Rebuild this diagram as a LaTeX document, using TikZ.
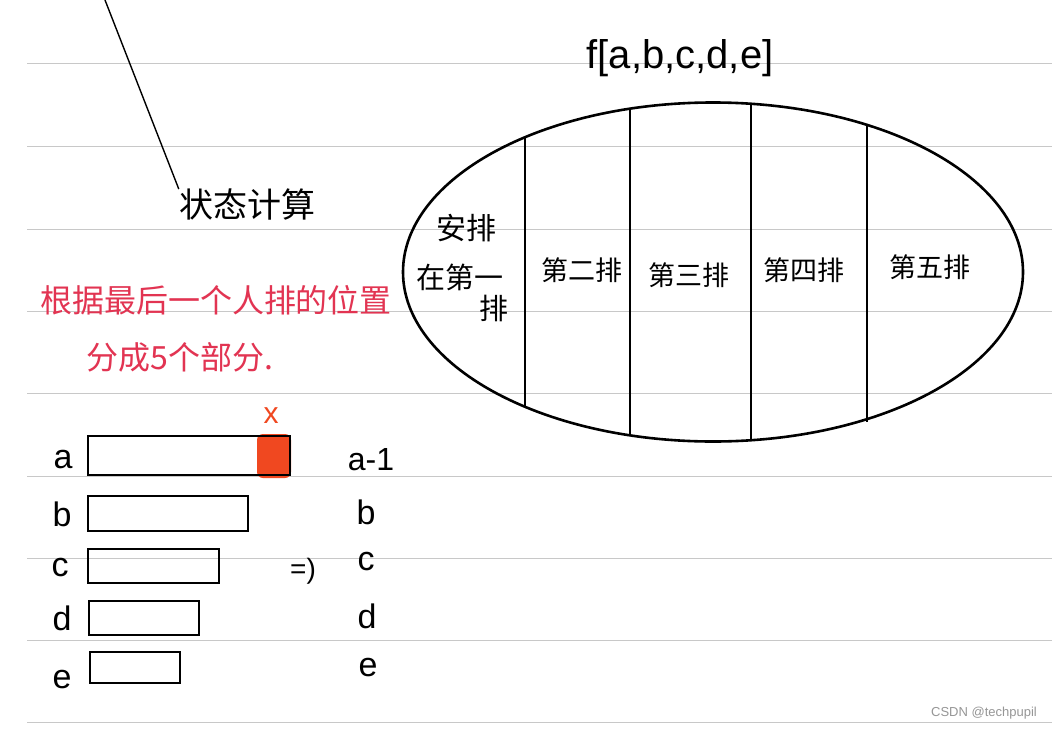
\documentclass[tikz,border=0pt]{standalone}
\usepackage{fontspec}
\setmainfont{Liberation Sans}
\newfontfamily\cjk{Noto Sans CJK SC}
\usetikzlibrary{shapes.geometric}
\definecolor{rulegray}{RGB}{200,200,200}
\definecolor{penred}{RGB}{226,52,82}
\definecolor{markred}{RGB}{240,72,32}
\definecolor{wmgray}{RGB}{150,150,150}
\begin{document}
\begin{tikzpicture}[x=1pt,y=-1pt,
  ruleline/.style={draw=rulegray,line width=1pt},
  pen/.style={draw=black,line width=2.6pt},
  bar/.style={draw=black,line width=2.6pt,anchor=north west,inner sep=0pt,outer sep=0pt},
  lbl/.style={inner sep=0pt,font=\fontsize{34}{36}\selectfont},
  cntxt/.style={inner sep=0pt,font=\cjk\fontsize{27}{30}\selectfont},
  bigcn/.style={inner sep=0pt,font=\cjk\fontsize{32}{36}\selectfont}]
\useasboundingbox (0,0) rectangle (1052,731);
\fill[white] (0,0) rectangle (1052,731);
% ruled lines
\foreach \yy in {63,146,229,311,393,476,558,640,722}
  \draw[ruleline] (27,\yy) -- (1052,\yy);
% diagonal line and title
\coordinate (top) at (105,0);
\node[bigcn,font=\cjk\fontsize{34}{36}\selectfont] (calc) at (247,205) {状态计算};
\draw[black,line width=1.4pt] (top) -- (calc.north west);
% red notes
\node[bigcn,text=penred] (note1) at (216,300) {根据最后一个人排的位置};
\node[bigcn,text=penred] (note2) at (180,357) {分成5个部分.};
% formula
\node[inner sep=0pt,font=\fontsize{40}{44}\selectfont] (f) at (680,58) {f[a,b,c,d,e]};
% ellipse
\node[pen,ellipse,minimum width=620pt,minimum height=339pt,inner sep=0pt] (ov) at (713,272) {};
\coordinate (v1t) at (525,137); \coordinate (v1b) at (525,407);
\coordinate (v2t) at (630,108); \coordinate (v2b) at (630,436);
\coordinate (v3t) at (751,103); \coordinate (v3b) at (751,441);
\coordinate (v4t) at (867,124); \coordinate (v4b) at (867,422);
\draw[pen] (v1t) -- (v1b);
\draw[pen] (v2t) -- (v2b);
\draw[pen] (v3t) -- (v3b);
\draw[pen] (v4t) -- (v4b);
\node[cntxt,font=\cjk\fontsize{30}{32}\selectfont] (s1a) at (466,228) {安排};
\node[cntxt,font=\cjk\fontsize{29}{32}\selectfont] (s1b) at (460,277) {在第一};
\node[cntxt,font=\cjk\fontsize{29}{32}\selectfont] (s1c) at (494,308) {排};
\node[cntxt] (s2) at (582,270) {第二排};
\node[cntxt] (s3) at (689,275) {第三排};
\node[cntxt] (s4) at (804,270) {第四排};
\node[cntxt] (s5) at (930,267) {第五排};
% bars
\fill[markred,rounded corners=6pt] (257,434) rectangle (291,478);
\node[bar,minimum width=202pt,minimum height=39pt] (ba) at (88,436) {};
\node[bar,minimum width=160pt,minimum height=35pt] (bb) at (88,496) {};
\node[bar,minimum width=131pt,minimum height=34pt] (bc) at (88,549) {};
\node[bar,minimum width=110pt,minimum height=34pt] (bd) at (89,601) {};
\node[bar,minimum width=90pt,minimum height=31pt] (be) at (90,652) {};
\node[inner sep=0pt,text=markred,font=\fontsize{30}{30}\selectfont] (cross) at (271,416) {x};
% left labels
\node[lbl] (la) at (63,460) {a};
\node[lbl] (lb) at (62,514) {b};
\node[lbl] (lc) at (60,568) {c};
\node[lbl] (ld) at (62,618) {d};
\node[lbl] (le) at (62,680) {e};
% arrow
\node[lbl,font=\fontsize{28}{30}\selectfont] (imp) at (303,571) {=)};
% right labels
\node[lbl,font=\fontsize{32}{36}\selectfont] (ra) at (371,460) {a-1};
\node[lbl] (rb) at (366,512) {b};
\node[lbl] (rc) at (366,562) {c};
\node[lbl] (rd) at (367,616) {d};
\node[lbl] (re) at (368,668) {e};
% watermark
\node[inner sep=0pt,text=wmgray,font=\fontsize{13}{15}\selectfont] (wm) at (984,713) {CSDN @techpupil};
\end{tikzpicture}
\end{document}
